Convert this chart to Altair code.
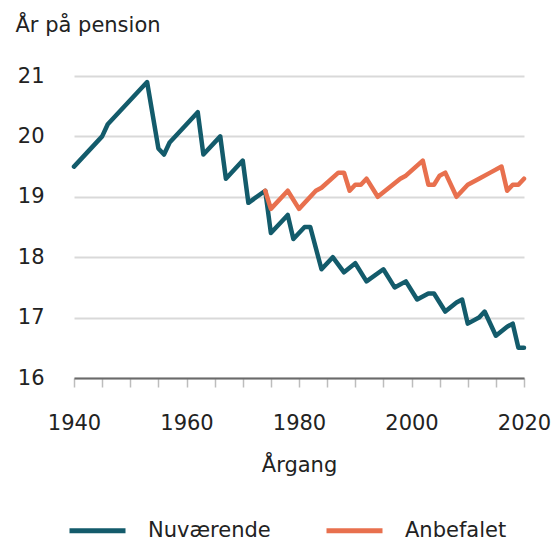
import altair as alt
import pandas as pd

series_names = ["Nuværende", "Anbefalet"]

blue_years = [1940, 1945, 1946, 1953, 1955, 1956, 1957, 1962, 1963, 1966, 1967, 1970, 1971,
              1974, 1975, 1978, 1979, 1981, 1982, 1984, 1986, 1988, 1990, 1992, 1995, 1997,
              1999, 2001, 2003, 2004, 2006, 2008, 2009, 2010, 2012, 2013, 2015, 2017, 2018,
              2019, 2020]
blue_vals = [19.5, 20.0, 20.2, 20.9, 19.8, 19.7, 19.9, 20.4, 19.7, 20.0, 19.3, 19.6, 18.9,
             19.1, 18.4, 18.7, 18.3, 18.5, 18.5, 17.8, 18.0, 17.75, 17.9, 17.6, 17.8, 17.5,
             17.6, 17.3, 17.4, 17.4, 17.1, 17.25, 17.3, 16.9, 17.0, 17.1, 16.7, 16.85, 16.9,
             16.5, 16.5]

orange_years = [1974, 1975, 1978, 1980, 1983, 1984, 1987, 1988, 1989, 1990, 1991, 1992, 1994,
                1996, 1998, 1999, 2002, 2003, 2004, 2005, 2006, 2008, 2010, 2012, 2014, 2016,
                2017, 2018, 2019, 2020]
orange_vals = [19.1, 18.8, 19.1, 18.8, 19.1, 19.15, 19.4, 19.4, 19.1, 19.2, 19.2, 19.3, 19.0,
               19.15, 19.3, 19.35, 19.6, 19.2, 19.2, 19.35, 19.4, 19.0, 19.2, 19.3, 19.4, 19.5,
               19.1, 19.2, 19.2, 19.3]

y_ticks = [16, 17, 18, 19, 20, 21]
x_ticks = list(range(1940, 2021, 5))

df = pd.concat([
    pd.DataFrame({"year": blue_years, "value": blue_vals, "series": series_names[0]}),
    pd.DataFrame({"year": orange_years, "value": orange_vals, "series": series_names[1]}),
])

FONT = "DejaVu Sans"
TXT = "#222222"
FS = 21

chart = alt.Chart(df).mark_line(strokeWidth=4.5, strokeJoin="round", strokeCap="round").encode(
    x=alt.X("year:Q",
            scale=alt.Scale(domain=[1940, 2020], nice=False),
            axis=alt.Axis(values=x_ticks, format="d",
                          labelExpr="datum.value % 20 == 0 ? datum.label : ''",
                          grid=False, domainColor="#6a6a6a", domainWidth=2,
                          tickColor="#bdbdbd", tickWidth=1.5, tickSize=9,
                          labelFontSize=FS, labelColor=TXT, labelFont=FONT,
                          labelPadding=25, labelFlush=False,
                          title="Årgang", titleFontSize=FS, titleFont=FONT,
                          titleFontWeight="normal", titleColor=TXT, titlePadding=21)),
    y=alt.Y("value:Q",
            scale=alt.Scale(domain=[16, 21], nice=False, zero=False),
            axis=alt.Axis(values=y_ticks, format="d", grid=True, gridColor="#d9d9d9",
                          gridWidth=2, domain=False, ticks=False,
                          labelFontSize=FS, labelColor=TXT, labelFont=FONT,
                          labelPadding=30,
                          title="År på pension", titleAngle=0, titleAlign="left",
                          titleBaseline="alphabetic",
                          titleX=-59, titleY=-45, titleFontSize=FS, titleFont=FONT,
                          titleFontWeight="normal", titleColor=TXT)),
    color=alt.Color("series:N",
                    scale=alt.Scale(domain=series_names, range=["#135b6b", "#e8704e"]),
                    legend=alt.Legend(title=None, orient="none", direction="horizontal",
                                      legendX=-7, legendY=424,
                                      symbolType="stroke", symbolSize=3136,
                                      symbolStrokeWidth=5, labelFontSize=FS,
                                      labelFont=FONT, labelColor=TXT, labelOffset=20,
                                      columnPadding=45)),
).properties(
    width=450, height=302,
    autosize=alt.AutoSizeParams(type="none"),
    padding={"left": 66, "top": 68, "right": 27, "bottom": 166},
).configure_view(stroke=None)

chart.save("out.html", embed_options={"renderer": "svg", "actions": False})
